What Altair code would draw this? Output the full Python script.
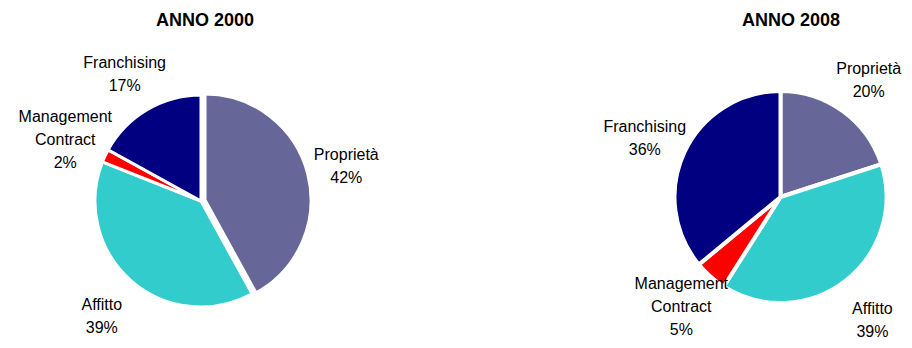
import math
import altair as alt
import pandas as pd

# ---- data ----
years = ["ANNO 2000", "ANNO 2008"]
categories = ["Proprietà", "Affitto", "Management Contract", "Franchising"]
values_2000 = [42, 39, 2, 17]
values_2008 = [20, 39, 5, 36]
colors = ["#666699", "#33CCCC", "#FF0000", "#000080"]

rows = []
for year, vals in zip(years, [values_2000, values_2008]):
    for i, (c, v) in enumerate(zip(categories, vals)):
        rows.append({"year": year, "category": c, "value": v, "order": i})
df = pd.DataFrame(rows)
title_df = pd.DataFrame({"year": years})

FONT = "Liberation Sans"
LH = 23
theta_scale = alt.Scale(domain=[0, 100], range=[0, 2 * math.pi])
color = alt.Color("category:N", scale=alt.Scale(domain=categories, range=colors), legend=None)

base = alt.Chart(df).transform_stack(
    stack="value", groupby=["year"], as_=["start", "end"],
    sort=[alt.SortField("order", order="ascending")],
).transform_calculate(
    mid="(datum.start + datum.end) / 2",
    label="replace(datum.category, ' ', '\\n') + '\\n' + datum.value + '%'",
    nlines="length(split(datum.category, ' ')) + 1",
)

R = 106
LABEL_R = 150


def arcs(sel, cx, cy, sw=3):
    return sel.mark_arc(radius=R, stroke="white", strokeWidth=sw).encode(
        theta=alt.Theta("start:Q", scale=theta_scale),
        theta2="end:Q",
        color=color,
        x=alt.value(cx),
        y=alt.value(cy),
    )


def labels(sel, cx, cy, shifts):
    layers = []
    for n, shift in zip((2, 3), shifts):
        layers.append(
            sel.transform_filter(alt.datum.nlines == n).mark_text(
                radius=LABEL_R, lineBreak="\n", font=FONT, fontSize=16, lineHeight=LH,
                align="center", baseline="middle", color="black",
                dy=-(n - 1) * LH / 2 + shift,
            ).encode(
                theta=alt.Theta("mid:Q", scale=theta_scale),
                text="label:N",
                x=alt.value(cx),
                y=alt.value(cy),
            )
        )
    return layers


# left pie (2000) with exploded Proprietà
c1x, c1y = 193, 193
sel1 = base.transform_filter(alt.datum.year == years[0])
left_rest = arcs(sel1.transform_filter(alt.datum.category != categories[0]), c1x, c1y)
left_expl = arcs(sel1.transform_filter(alt.datum.category == categories[0]), c1x + 4, c1y - 1)
left_lab = labels(sel1, c1x, c1y, (3, 3))

# right pie (2008)
c2x, c2y = 772.5, 189
sel2 = base.transform_filter(alt.datum.year == years[1])
right_arcs = arcs(sel2, c2x, c2y, sw=4)
right_lab = labels(sel2, c2x, c2y, (5, -3))

title_base = alt.Chart(title_df).mark_text(
    font=FONT, fontSize=18, fontWeight="bold", align="center", baseline="alphabetic", color="black"
)
t1 = title_base.transform_filter(alt.datum.year == years[0]).encode(
    text="year:N", x=alt.value(197), y=alt.value(18))
t2 = title_base.transform_filter(alt.datum.year == years[1]).encode(
    text="year:N", x=alt.value(783), y=alt.value(18))

chart = alt.layer(
    left_rest, left_expl, *left_lab, right_arcs, *right_lab, t1, t2
).properties(
    width=896, height=332, padding=0,
    autosize=alt.AutoSizeParams(type="fit", contains="padding"),
).configure_view(stroke=None)

chart.save("out.html", embed_options={"renderer": "svg", "actions": False})
